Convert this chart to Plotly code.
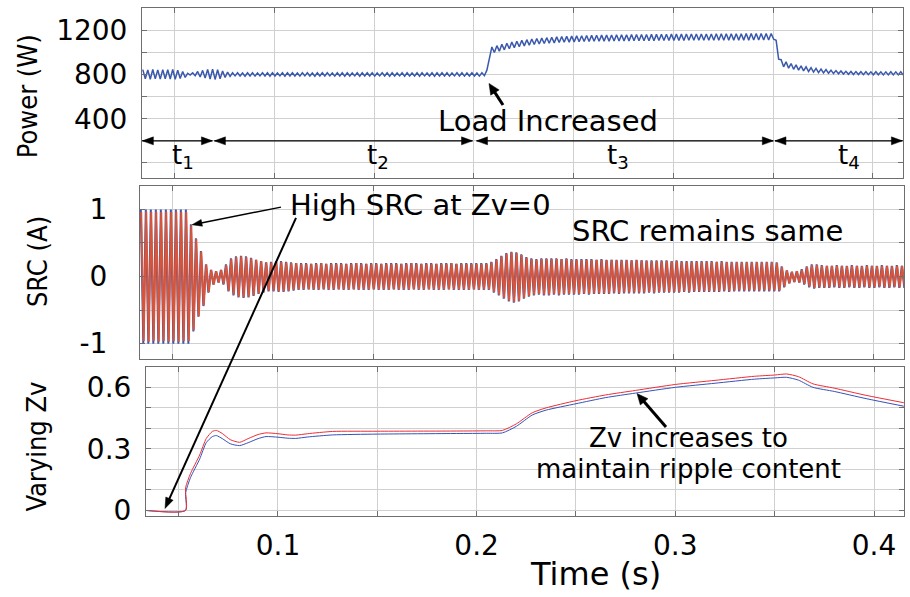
import math
import numpy as np
import plotly.graph_objects as go

W, H = 910, 597

# Oscillating traces are stored as one peak and one trough per ripple cycle.
T_START = 0.034
HALF_CYCLE = 0.00125

# Input power (W)
power_peak = [
    845, 842, 846, 843, 845, 844, 846, 840, 828, 812,
    816, 828, 838, 846, 850, 844, 832, 822, 816, 816,
    815, 817, 816, 815, 816, 817, 816, 815, 816, 816,
    817, 815, 816, 816, 815, 817, 816, 816, 815, 816,
    817, 816, 815, 816, 816, 817, 816, 815, 816, 816,
    817, 815, 816, 816, 815, 817, 816, 815, 816, 816,
    817, 816, 815, 816, 816, 815, 816, 815, 816, 840,
    1050, 1062, 1074, 1084, 1094, 1102, 1110, 1116, 1122, 1126,
    1130, 1134, 1138, 1141, 1144, 1146, 1148, 1150, 1152, 1154,
    1155, 1156, 1157, 1158, 1159, 1160, 1161, 1161, 1162, 1162,
    1163, 1163, 1164, 1164, 1165, 1165, 1166, 1166, 1166, 1167,
    1167, 1167, 1168, 1168, 1168, 1169, 1169, 1169, 1170, 1170,
    1170, 1171, 1171, 1171, 1172, 1172, 1172, 1110, 935, 915,
    900, 888, 878, 870, 862, 856, 850, 845, 840, 836,
    833, 830, 828, 827, 826, 826, 825, 826, 825, 825,
    826, 825, 825,
]
power_trough = [
    762, 758, 761, 759, 762, 760, 758, 764, 775, 795,
    790, 778, 768, 760, 756, 762, 774, 784, 788, 787,
    786, 787, 786, 788, 787, 786, 787, 788, 786, 787,
    787, 786, 788, 787, 786, 787, 787, 788, 786, 787,
    786, 787, 788, 786, 787, 787, 786, 788, 787, 786,
    787, 788, 786, 787, 787, 786, 788, 787, 786, 787,
    787, 786, 788, 787, 786, 787, 787, 786, 790, 960,
    1000, 1012, 1024, 1034, 1044, 1052, 1060, 1066, 1072, 1077,
    1081, 1084, 1087, 1090, 1092, 1094, 1096, 1097, 1099, 1100,
    1101, 1102, 1103, 1103, 1104, 1104, 1105, 1105, 1106, 1106,
    1107, 1107, 1107, 1108, 1108, 1108, 1109, 1109, 1109, 1110,
    1110, 1110, 1110, 1111, 1111, 1111, 1111, 1112, 1112, 1112,
    1112, 1112, 1113, 1113, 1113, 1113, 1120, 940, 870, 858,
    848, 840, 834, 828, 822, 818, 815, 812, 809, 807,
    805, 803, 801, 800, 799, 799, 798, 798, 797, 797,
    797, 797, 796,
]

# Second-order ripple current (A), two controller variants
src_blue_peak = [
    1.00, 1.00, 1.00, 1.00, 1.00, 1.00, 1.00, 1.00, 1.00, 1.00,
    0.78, 0.57, 0.38, 0.18, 0.10, 0.08, 0.10, 0.18, 0.27, 0.30,
    0.31, 0.30, 0.28, 0.25, 0.23, 0.21, 0.22, 0.23, 0.23, 0.22,
    0.21, 0.20, 0.20, 0.20, 0.19, 0.20, 0.20, 0.19, 0.20, 0.20,
    0.20, 0.19, 0.20, 0.20, 0.20, 0.19, 0.20, 0.20, 0.19, 0.20,
    0.20, 0.20, 0.19, 0.20, 0.20, 0.20, 0.19, 0.20, 0.20, 0.19,
    0.20, 0.20, 0.20, 0.19, 0.20, 0.20, 0.20, 0.20, 0.20, 0.20,
    0.22, 0.26, 0.31, 0.35, 0.37, 0.36, 0.33, 0.29, 0.27, 0.26,
    0.27, 0.27, 0.27, 0.27, 0.26, 0.27, 0.26, 0.26, 0.26, 0.26,
    0.26, 0.25, 0.26, 0.25, 0.25, 0.25, 0.25, 0.25, 0.24, 0.25,
    0.24, 0.24, 0.24, 0.24, 0.24, 0.24, 0.23, 0.24, 0.23, 0.23,
    0.23, 0.23, 0.23, 0.23, 0.23, 0.22, 0.23, 0.22, 0.22, 0.22,
    0.22, 0.22, 0.22, 0.22, 0.22, 0.22, 0.22, 0.21, 0.15, 0.09,
    0.07, 0.08, 0.11, 0.15, 0.18, 0.18, 0.17, 0.16, 0.16, 0.17,
    0.16, 0.16, 0.17, 0.16, 0.16, 0.17, 0.16, 0.16, 0.17, 0.16,
    0.16, 0.17, 0.16,
]
src_blue_trough = [
    -1.00, -1.00, -1.00, -1.00, -1.00, -1.00, -1.00, -1.00, -1.00, -1.00,
    -0.82, -0.60, -0.44, -0.24, -0.12, -0.09, -0.12, -0.22, -0.28, -0.31,
    -0.32, -0.31, -0.29, -0.26, -0.24, -0.22, -0.22, -0.23, -0.23, -0.22,
    -0.21, -0.20, -0.20, -0.19, -0.20, -0.20, -0.19, -0.20, -0.20, -0.19,
    -0.20, -0.20, -0.19, -0.20, -0.20, -0.20, -0.19, -0.20, -0.20, -0.20,
    -0.19, -0.20, -0.20, -0.20, -0.19, -0.20, -0.20, -0.19, -0.20, -0.20,
    -0.20, -0.19, -0.20, -0.20, -0.20, -0.20, -0.19, -0.20, -0.20, -0.20,
    -0.24, -0.28, -0.33, -0.37, -0.39, -0.37, -0.33, -0.30, -0.28, -0.27,
    -0.28, -0.28, -0.27, -0.28, -0.27, -0.27, -0.27, -0.27, -0.26, -0.27,
    -0.26, -0.26, -0.26, -0.26, -0.25, -0.26, -0.25, -0.25, -0.25, -0.25,
    -0.25, -0.24, -0.25, -0.24, -0.24, -0.24, -0.24, -0.24, -0.23, -0.24,
    -0.23, -0.23, -0.23, -0.23, -0.23, -0.23, -0.22, -0.23, -0.22, -0.22,
    -0.22, -0.22, -0.22, -0.22, -0.22, -0.22, -0.22, -0.22, -0.16, -0.10,
    -0.08, -0.09, -0.12, -0.16, -0.18, -0.17, -0.17, -0.17, -0.16, -0.17,
    -0.17, -0.16, -0.17, -0.17, -0.16, -0.17, -0.17, -0.16, -0.17, -0.17,
    -0.16, -0.17, -0.17,
]
src_red_peak = [
    0.96, 0.97, 0.96, 0.97, 0.96, 0.97, 0.96, 0.97, 0.96, 0.96,
    0.76, 0.56, 0.37, 0.18, 0.10, 0.08, 0.10, 0.17, 0.26, 0.29,
    0.30, 0.29, 0.27, 0.25, 0.23, 0.21, 0.21, 0.22, 0.22, 0.21,
    0.20, 0.20, 0.19, 0.19, 0.19, 0.19, 0.20, 0.19, 0.19, 0.19,
    0.19, 0.19, 0.19, 0.20, 0.19, 0.19, 0.19, 0.19, 0.19, 0.19,
    0.19, 0.19, 0.19, 0.19, 0.20, 0.19, 0.19, 0.19, 0.19, 0.19,
    0.19, 0.19, 0.20, 0.19, 0.19, 0.19, 0.19, 0.19, 0.19, 0.19,
    0.21, 0.25, 0.30, 0.34, 0.36, 0.35, 0.32, 0.28, 0.26, 0.25,
    0.26, 0.26, 0.26, 0.26, 0.26, 0.26, 0.25, 0.25, 0.25, 0.25,
    0.25, 0.25, 0.25, 0.24, 0.25, 0.24, 0.24, 0.24, 0.24, 0.24,
    0.24, 0.23, 0.23, 0.23, 0.23, 0.23, 0.23, 0.23, 0.22, 0.22,
    0.22, 0.22, 0.22, 0.22, 0.22, 0.22, 0.22, 0.21, 0.21, 0.21,
    0.21, 0.21, 0.21, 0.21, 0.21, 0.21, 0.21, 0.20, 0.14, 0.09,
    0.07, 0.08, 0.10, 0.14, 0.17, 0.17, 0.16, 0.16, 0.16, 0.16,
    0.16, 0.15, 0.16, 0.16, 0.15, 0.16, 0.16, 0.15, 0.16, 0.16,
    0.15, 0.16, 0.16,
]
src_red_trough = [
    -0.96, -0.97, -0.96, -0.97, -0.96, -0.97, -0.96, -0.97, -0.96, -0.96,
    -0.80, -0.59, -0.43, -0.23, -0.12, -0.09, -0.11, -0.21, -0.27, -0.30,
    -0.31, -0.30, -0.28, -0.25, -0.23, -0.21, -0.21, -0.22, -0.22, -0.21,
    -0.20, -0.19, -0.19, -0.19, -0.19, -0.19, -0.19, -0.19, -0.19, -0.19,
    -0.19, -0.19, -0.19, -0.19, -0.19, -0.19, -0.19, -0.19, -0.19, -0.19,
    -0.19, -0.19, -0.19, -0.19, -0.19, -0.19, -0.19, -0.19, -0.19, -0.19,
    -0.19, -0.19, -0.19, -0.19, -0.19, -0.19, -0.19, -0.19, -0.19, -0.19,
    -0.23, -0.27, -0.32, -0.36, -0.38, -0.36, -0.32, -0.29, -0.27, -0.26,
    -0.27, -0.27, -0.26, -0.27, -0.26, -0.26, -0.26, -0.26, -0.25, -0.26,
    -0.25, -0.25, -0.25, -0.25, -0.24, -0.25, -0.24, -0.24, -0.24, -0.24,
    -0.24, -0.23, -0.24, -0.23, -0.23, -0.23, -0.23, -0.23, -0.22, -0.23,
    -0.22, -0.22, -0.22, -0.22, -0.22, -0.22, -0.21, -0.22, -0.21, -0.21,
    -0.21, -0.21, -0.21, -0.21, -0.21, -0.21, -0.21, -0.21, -0.15, -0.10,
    -0.08, -0.09, -0.11, -0.15, -0.17, -0.16, -0.16, -0.16, -0.15, -0.16,
    -0.16, -0.15, -0.16, -0.16, -0.15, -0.16, -0.16, -0.15, -0.16, -0.16,
    -0.15, -0.16, -0.16,
]

# Virtual impedance Zv (p.u.)
zv_time = [
    0.0334, 0.0535, 0.05351, 0.056, 0.0606, 0.0639, 0.067, 0.069, 0.072,
    0.076, 0.0807, 0.085, 0.09, 0.094, 0.1, 0.105, 0.109, 0.115, 0.1275,
    0.15, 0.19, 0.205, 0.213, 0.22, 0.228, 0.235, 0.25, 0.265, 0.28, 0.3,
    0.32, 0.34, 0.35, 0.356, 0.362, 0.3693, 0.38, 0.396, 0.415,
]
zv_blue = [
    0.0, 0.0, 0.085, 0.16, 0.25, 0.33, 0.36, 0.365, 0.35,
    0.325, 0.316, 0.33, 0.35, 0.36, 0.357, 0.352, 0.351, 0.358, 0.368,
    0.372, 0.375, 0.376, 0.378, 0.41, 0.465, 0.489, 0.52, 0.55, 0.572, 0.60,
    0.62, 0.64, 0.646, 0.649, 0.635, 0.60, 0.58, 0.545, 0.508,
]
zv_red = [
    0.0, 0.0, 0.11, 0.18, 0.27, 0.35, 0.385, 0.39, 0.375,
    0.345, 0.332, 0.35, 0.37, 0.378, 0.374, 0.368, 0.367, 0.374, 0.385,
    0.386, 0.387, 0.388, 0.39, 0.422, 0.476, 0.50, 0.535, 0.563, 0.585, 0.614,
    0.634, 0.654, 0.66, 0.665, 0.652, 0.617, 0.596, 0.561, 0.525,
]

# Operating intervals t1..t4 marked on the power panel
interval_edges = [(0.0338, 0.0689), (0.0699, 0.1993), (0.2013, 0.3501), (0.3509, 0.4148)]
interval_names = ["t<sub>1</sub>", "t<sub>2</sub>", "t<sub>3</sub>", "t<sub>4</sub>"]
interval_label_x = [0.054, 0.152, 0.272, 0.388]
interval_arrow_w = 200
interval_label_w = 55

x_range = [0.0336, 0.4151]
x_tickvals = [0.1, 0.2, 0.3, 0.4]
x_ticktext = ["0.1", "0.2", "0.3", "0.4"]
power_tickvals = [400, 800, 1200]
src_tickvals = [-1, 0, 1]
zv_tickvals = [0, 0.3, 0.6]

BLUE = "#3A58AC"
SRC_RED = "#D6553B"
ZV_RED = "#EE2E36"
ZV_BLUE = "#3552B8"
GRID = "#D0D0D0"
AXIS = "#6E6E6E"
TXT = "DejaVu Sans"


def zigzag(peaks, troughs, t0):
    vals = np.column_stack([peaks, troughs]).ravel()
    t = t0 + HALF_CYCLE * np.arange(len(vals))
    return t, vals


def fx(px):
    return px / W


def fy(py):
    return 1 - py / H


fig = go.Figure()

tp, vp = zigzag(power_peak, power_trough, T_START)
fig.add_trace(go.Scatter(x=tp, y=vp, mode="lines", line=dict(color=BLUE, width=1.5),
                         xaxis="x", yaxis="y", showlegend=False))

tb, vb = zigzag(src_blue_peak, src_blue_trough, T_START)
fig.add_trace(go.Scatter(x=tb, y=vb, mode="lines", line=dict(color=BLUE, width=2),
                         xaxis="x2", yaxis="y2", showlegend=False))
tr, vr = zigzag(src_red_peak, src_red_trough, T_START + 0.0002)
fig.add_trace(go.Scatter(x=tr, y=vr, mode="lines", line=dict(color=SRC_RED, width=2),
                         xaxis="x2", yaxis="y2", showlegend=False))

fig.add_trace(go.Scatter(x=zv_time, y=zv_blue, mode="lines",
                         line=dict(color=ZV_BLUE, width=1, shape="spline", smoothing=0.6),
                         xaxis="x3", yaxis="y3", showlegend=False))
fig.add_trace(go.Scatter(x=zv_time, y=zv_red, mode="lines",
                         line=dict(color=ZV_RED, width=1, shape="spline", smoothing=0.6),
                         xaxis="x3", yaxis="y3", showlegend=False))


def axis_style(**kw):
    base = dict(
        showline=True, linecolor=AXIS, linewidth=1, mirror="ticks",
        ticks="inside", ticklen=5, tickcolor=AXIS, tickwidth=1,
        showgrid=True, gridcolor=GRID, gridwidth=1, zeroline=False,
        tickfont=dict(family=TXT, size=28, color="black"),
    )
    base.update(kw)
    return base


def minor(dt):
    return dict(ticks="inside", ticklen=5, tickcolor=AXIS, showgrid=True,
                gridcolor=GRID, gridwidth=1, dtick=dt, tick0=0)


fig.update_layout(
    width=W, height=H,
    margin=dict(l=0, r=0, t=0, b=0),
    paper_bgcolor="white", plot_bgcolor="white",
    xaxis=axis_style(domain=[fx(142), fx(903)], anchor="y", range=x_range,
                     tickvals=x_tickvals, showticklabels=False, minor=minor(0.05)),
    yaxis=axis_style(domain=[fy(181), fy(8)], anchor="x", range=[-133, 1404],
                     tickvals=power_tickvals, minor=minor(200), ticklabelstandoff=8),
    xaxis2=axis_style(domain=[fx(140), fx(904)], anchor="y2", range=x_range,
                      tickvals=x_tickvals, showticklabels=False, minor=minor(0.05)),
    yaxis2=axis_style(domain=[fy(366), fy(190)], anchor="x2", range=[-1.232, 1.341],
                      tickvals=src_tickvals, ticktext=["-1", "0", "1"], minor=minor(0.5),
                      ticklabelstandoff=26),
    xaxis3=axis_style(domain=[fx(146), fx(904)], anchor="y3", range=x_range,
                      tickvals=x_tickvals, ticktext=x_ticktext, minor=minor(0.05),
                      ticklabelstandoff=4),
    yaxis3=axis_style(domain=[fy(526), fy(374)], anchor="x3", range=[-0.0287, 0.6986],
                      tickvals=zv_tickvals, ticktext=["0", "0.3", "0.6"], minor=minor(0.1),
                      ticklabelstandoff=8),
)

shapes = []


def screen_arrow(tail, head, lw, hl, hw):
    """Callout arrow given in screen pixels: a shaft plus a filled head."""
    (x0, y0), (x1, y1) = tail, head
    d = math.hypot(x1 - x0, y1 - y0)
    ux, uy = (x1 - x0) / d, (y1 - y0) / d
    bx, by = x1 - ux * hl, y1 - uy * hl
    nx, ny = -uy, ux
    shapes.append(dict(type="line", xref="paper", yref="paper", layer="above",
                       x0=fx(x0), y0=fy(y0), x1=fx(bx + ux * 2), y1=fy(by + uy * 2),
                       line=dict(color="black", width=lw)))
    pts = [(x1, y1), (bx + nx * hw, by + ny * hw), (bx - nx * hw, by - ny * hw)]
    path = "M " + " L ".join(f"{fx(px):.5f},{fy(py):.5f}" for px, py in pts) + " Z"
    shapes.append(dict(type="path", xref="paper", yref="paper", layer="above", path=path,
                       fillcolor="black", line=dict(color="black", width=0.5)))


# double-headed interval arrows on the power panel
for a, b in interval_edges:
    shapes.append(dict(type="line", xref="x", yref="y", layer="above",
                       x0=a, x1=b, y0=interval_arrow_w, y1=interval_arrow_w,
                       line=dict(color="black", width=1.3)))
    for anchor, path in ((b, "M0,0 L-11,-4 L-11,4 Z"), (a, "M0,0 L11,-4 L11,4 Z")):
        shapes.append(dict(type="path", xref="x", yref="y", layer="above",
                           xsizemode="pixel", ysizemode="pixel",
                           xanchor=anchor, yanchor=interval_arrow_w, path=path,
                           fillcolor="black", line=dict(color="black", width=0.5)))

screen_arrow((503, 107), (489, 85), 3, 11, 5)
screen_arrow((666, 435), (637, 401), 3, 11, 5)
screen_arrow((281, 211), (192, 229), 1.5, 10, 3.5)
screen_arrow((296, 222), (165, 518), 2, 11, 4)

ann = []
for name, lx in zip(interval_names, interval_label_x):
    ann.append(dict(x=lx, y=interval_label_w, xref="x", yref="y", text=name, showarrow=False,
                    font=dict(family=TXT, size=26, color="black"),
                    xanchor="center", yanchor="middle"))

text_font = dict(family=TXT, size=29, color="black")
small_font = dict(family=TXT, size=26, color="black")
ann += [
    dict(x=fx(548), y=fy(123), xref="paper", yref="paper", text="Load Increased",
         showarrow=False, font=text_font, xanchor="center", yanchor="middle"),
    dict(x=fx(288), y=fy(209), xref="paper", yref="paper", text="High SRC at Zv=0",
         showarrow=False, font=text_font, xanchor="left", yanchor="middle"),
    dict(x=fx(707), y=fy(235), xref="paper", yref="paper", text="SRC remains same",
         showarrow=False, font=text_font, xanchor="center", yanchor="middle"),
    dict(x=fx(688), y=fy(446), xref="paper", yref="paper", text="Zv increases to",
         showarrow=False, font=small_font, xanchor="center", yanchor="middle"),
    dict(x=fx(688), y=fy(478), xref="paper", yref="paper", text="maintain ripple content",
         showarrow=False, font=small_font, xanchor="center", yanchor="middle"),
    dict(x=fx(595), y=fy(585), xref="paper", yref="paper", text="Time (s)",
         showarrow=False, font=dict(family=TXT, size=32, color="black"),
         xanchor="center", yanchor="middle"),
]

title_font = dict(family="Liberation Sans Narrow, DejaVu Sans Condensed, sans-serif",
                  size=27, color="black")
for label, cx, cy in [("Power (W)", 27, 98), ("SRC (A)", 37, 267), ("Varying Zv", 37, 455)]:
    ann.append(dict(x=fx(cx), y=fy(cy), xref="paper", yref="paper", text=label,
                    textangle=-90, showarrow=False, font=title_font,
                    xanchor="center", yanchor="middle"))

fig.update_layout(annotations=ann, shapes=shapes)
fig.write_html("out.html")
